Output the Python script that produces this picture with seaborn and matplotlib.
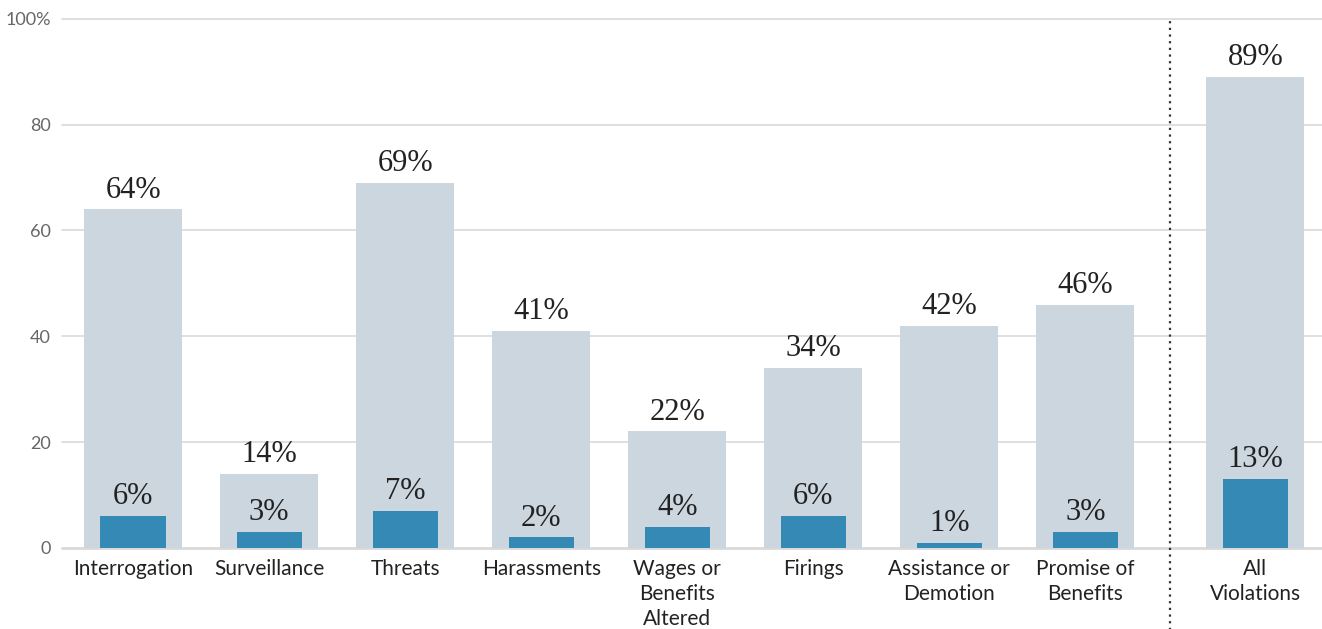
import matplotlib
matplotlib.use("Agg")
import matplotlib.pyplot as plt
import seaborn as sns
import pandas as pd

categories = ["Interrogation", "Surveillance", "Threats", "Harassments",
              "Wages or\nBenefits\nAltered", "Firings", "Assistance or\nDemotion",
              "Promise of\nBenefits", "All\nViolations"]
positions = [0, 1, 2, 3, 4, 5, 6, 7, 8.25]
total_pct = [64, 14, 69, 41, 22, 34, 42, 46, 89]
subset_pct = [6, 3, 7, 2, 4, 6, 1, 3, 13]
yticks = [0, 20, 40, 60, 80, 100]
ytick_labels = ["0", "20", "40", "60", "80", "100%"]

df = pd.DataFrame({"pos": positions, "cat": categories,
                   "total": total_pct, "subset": subset_pct})

sns.set_theme(style="white")
plt.rcParams["font.family"] = ["Lato", "DejaVu Sans"]

fig = plt.figure(figsize=(13.22, 6.29), dpi=100)
ax = fig.add_axes([0.047, 0.129, 0.953, 0.841])

light = "#CBD6DF"
dark = "#3589B5"

sns.barplot(data=df, x="pos", y="total", native_scale=True, color=light,
            width=0.72, saturation=1, linewidth=0, ax=ax, zorder=2)
sns.barplot(data=df, x="pos", y="subset", native_scale=True, color=dark,
            width=0.48, saturation=1, linewidth=0, ax=ax, zorder=3)

serif = ["Liberation Serif", "DejaVu Serif"]
for p, t, s in zip(positions, total_pct, subset_pct):
    ax.text(p, t + 0.9, f"{t}%", ha="center", va="bottom", fontsize=22,
            family=serif, color="#222222", zorder=4)
    ax.text(p, s + 0.9, f"{s}%", ha="center", va="bottom", fontsize=22,
            family=serif, color="#222222", zorder=4)

ax.set_xlim(-0.522, 8.74)
ax.set_ylim(0, 100)
ax.set_yticks(yticks)
ax.set_yticklabels(ytick_labels, fontsize=13, color="#666666")
ax.set_xticks(positions)
ax.set_xticklabels(categories, fontsize=15, color="#222222", linespacing=1.3, va="top")
ax.tick_params(axis="x", length=0, pad=8)
ax.tick_params(axis="y", length=0, pad=8)
ax.set_xlabel("")
ax.set_ylabel("")

for y in yticks:
    ax.axhline(y, color="#D9D9D9", lw=1.2 if y else 2.0, zorder=1, clip_on=False)

for sp in ax.spines.values():
    sp.set_visible(False)

ax.axvline((positions[7] + positions[8]) / 2, ymin=-0.16, ymax=1.0,
           color="#333333", lw=1.6, ls=(0, (1, 2)), clip_on=False, zorder=5)

fig.savefig("out.png", dpi=100)
